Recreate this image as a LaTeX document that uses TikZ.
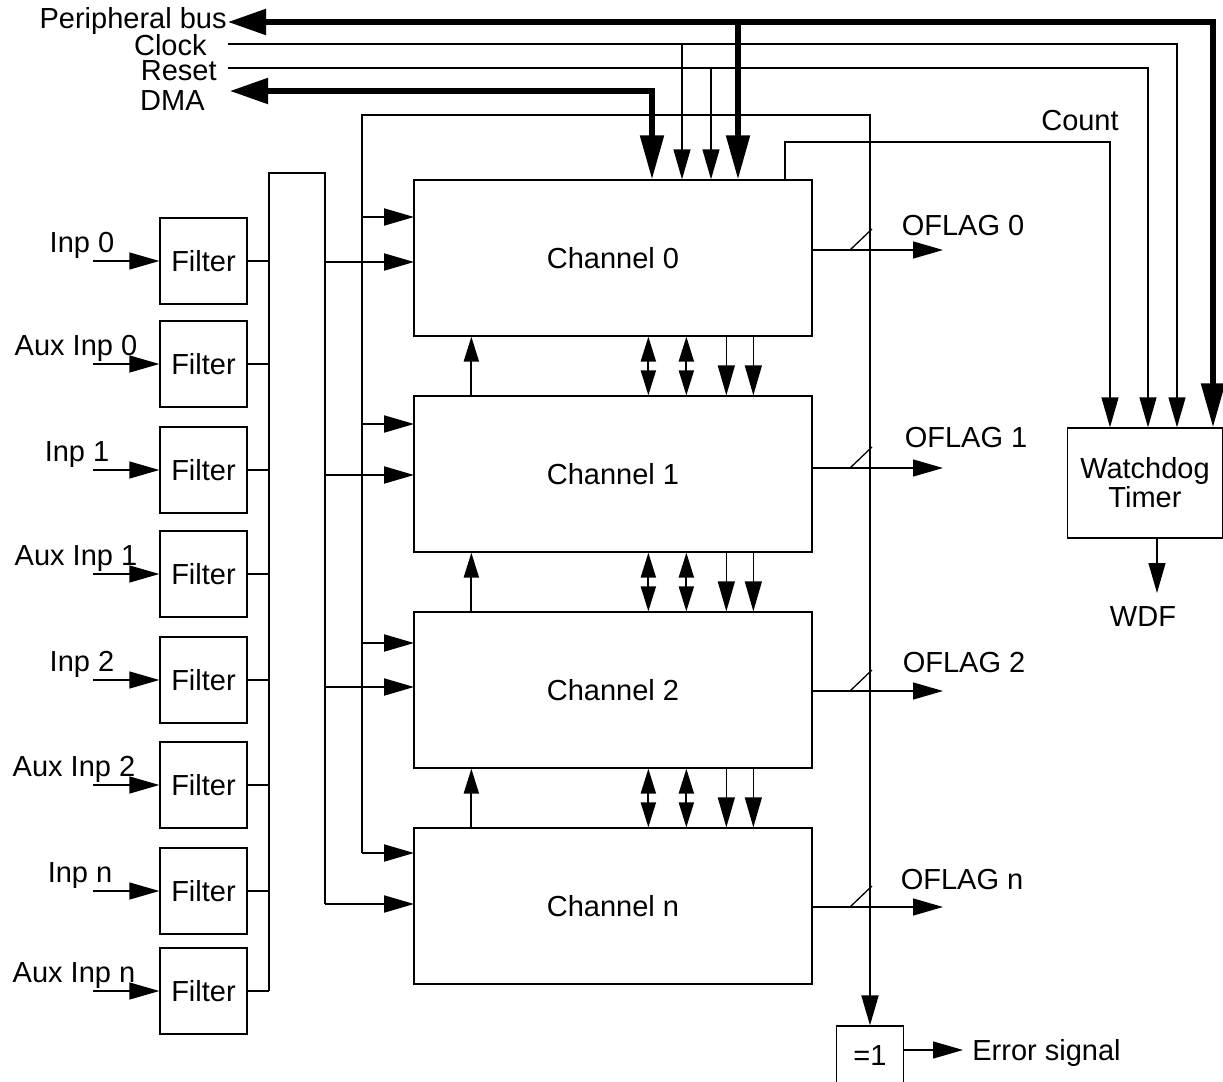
\documentclass[tikz,border=0pt]{standalone}
\usepackage{fontspec}
\setmainfont{Liberation Sans}
\usetikzlibrary{arrows.meta,calc}

\begin{document}
\begin{tikzpicture}[
  x=0.5pt,
  y=-0.5pt,
  thinTip/.tip={Triangle[length=15pt,width=8.5pt]},
  smallTip/.tip={Triangle[length=12.5pt,width=7.5pt]},
  fatTip/.tip={Triangle[length=22pt,width=11.5pt]},
  busTip/.tip={Triangle[length=19pt,width=12.5pt]},
  sigThin/.style={line width=0.65pt},
  sigMid/.style={line width=1pt},
  sigFat/.style={line width=2.6pt},
  blockBox/.style={draw, line width=0.65pt, inner sep=0pt, font=\fontsize{14.5}{12}\selectfont},
  chanBox/.style={blockBox, minimum width=199pt, minimum height=78pt},
  filterBox/.style={blockBox, minimum width=43.5pt, minimum height=43pt},
  sigLabel/.style={inner sep=0pt, font=\fontsize{14.5}{12}\selectfont}
]
  \useasboundingbox (0,0) rectangle (1223,1082);

  % channels
  \foreach \i/\y/\t in {0/258/0,1/474/1,2/690/2,3/906/n} {
    \node[chanBox] (ch\i) at (613,\y) {Channel \t};
  }

  % filters with their inputs
  \foreach \i/\y/\lx/\t in {1/261/82/Inp 0,2/364/76/Aux Inp 0,3/470/77/Inp 1,4/574/76/Aux Inp 1,
                            5/680/82/Inp 2,6/785/74/Aux Inp 2,7/891/80/Inp n,8/991/74/Aux Inp n} {
    \node[filterBox] (f\i) at (203.5,\y) {Filter};
    \node[sigLabel, anchor=base] (in\i) at (\lx,\y-9) {\t};
    \coordinate (src\i) at (93,\y);
    \draw[sigThin, -thinTip] (src\i) -- (f\i);
  }

  \coordinate (busL) at (269,173);
  \coordinate (busR) at (325,173);
  \foreach \i in {1,...,8} \draw[sigThin] (f\i.east) -- (f\i.east -| busL);

  \foreach \i/\y in {0/262,1/475,2/687,3/904} {
    \coordinate (chin\i) at (414,\y);
    \draw[sigMid, -thinTip] (busR |- chin\i) -- (chin\i);
  }
  \draw[sigMid] (f8.east -| busL) -- (busL) -- (busR) -- (busR |- chin3);

  % error path
  \node[blockBox, minimum width=33.5pt, minimum height=30pt] (xor) at (870,1056) {=1};
  \coordinate (errTop) at (362,115);
  \foreach \i/\y in {0/217,1/424,2/643,3/853} {
    \coordinate (chx\i) at (414,\y);
    \draw[sigMid, -thinTip] (errTop |- chx\i) -- (chx\i);
  }
  \draw[sigMid, -thinTip] (errTop |- chx3) -- (errTop) -| (xor);
  \node[sigLabel, anchor=base west] (err) at (972,1060) {Error signal};
  \coordinate (errEnd) at (963,1050);
  \draw[sigThin, -thinTip] (xor.east |- errEnd) -- (errEnd);

  % links between channels
  \foreach \a/\b in {1/0,2/1,3/2} {
    \draw[sigMid, -smallTip] ($(ch\a.north west)+(58,0)$) -- ($(ch\b.south west)+(58,0)$);
    \draw[sigMid, smallTip-smallTip] ($(ch\a.north west)+(235,0)$) -- ($(ch\b.south west)+(235,0)$);
    \draw[sigMid, smallTip-smallTip] ($(ch\a.north west)+(273,0)$) -- ($(ch\b.south west)+(273,0)$);
    \draw[sigThin, -thinTip] ($(ch\b.south west)+(313,0)$) -- ($(ch\a.north west)+(313,0)$);
    \draw[sigThin, -thinTip] ($(ch\b.south west)+(340,0)$) -- ($(ch\a.north west)+(340,0)$);
  }

  % outputs
  \foreach \i/\y/\t/\lx/\ly in {0/250/0/963/226,1/468/1/966/438,2/691/2/964/663,3/907/n/962/880} {
    \coordinate (oa\i) at (812,\y);
    \coordinate (ob\i) at (943,\y);
    \draw[sigThin, -thinTip] (oa\i) -- (ob\i);
    \draw[sigThin] ($(oa\i)+(38,0)$) -- ++(22,-21);
    \node[sigLabel] (of\i) at (\lx,\ly) {OFLAG \t};
  }

  % watchdog
  \node[blockBox, minimum width=77.5pt, minimum height=55pt, align=center] (wd) at (1145,483) {Watchdog\\Timer};
  \coordinate (wdo) at (1157,593);
  \draw[sigThin, -thinTip] (wdo |- wd.south) -- (wdo);
  \node[sigLabel] (wdf) at (1143,617) {WDF};

  % system signals
  \node[sigLabel, anchor=base east] (pbus) at (227,28) {Peripheral bus};
  \node[sigLabel, anchor=base east] (clk) at (207,55) {Clock};
  \node[sigLabel, anchor=base east] (rst) at (217,80) {Reset};
  \node[sigLabel, anchor=base east] (dma) at (205,110) {DMA};
  \node[sigLabel] (cnt) at (1080,121) {Count};

  \coordinate (pbL) at (228,22);
  \coordinate (pbR) at (1213,22);
  \coordinate (pbB) at (738,22);
  \coordinate (ckL) at (228,44);
  \coordinate (ckR) at (1177,44);
  \coordinate (ckB) at (682,44);
  \coordinate (rsL) at (228,68);
  \coordinate (rsR) at (1148,68);
  \coordinate (rsB) at (711,68);
  \coordinate (dmL) at (230,91);
  \coordinate (dmR) at (652,91);
  \coordinate (cnL) at (785,142);
  \coordinate (cnR) at (1110,142);

  \draw[sigFat, busTip-fatTip] (pbL) -- (pbR) -- (pbR |- wd.north);
  \draw[sigFat, -fatTip] (pbB) -- (pbB |- ch0.north);
  \draw[sigThin, -thinTip] (ckL) -- (ckR) -- (ckR |- wd.north);
  \draw[sigThin, -thinTip] (ckB) -- (ckB |- ch0.north);
  \draw[sigThin, -thinTip] (rsL) -- (rsR) -- (rsR |- wd.north);
  \draw[sigThin, -thinTip] (rsB) -- (rsB |- ch0.north);
  \draw[sigFat, busTip-fatTip] (dmL) -- (dmR) -- (dmR |- ch0.north);
  \draw[sigThin, -thinTip] (cnL |- ch0.north) -- (cnL) -- (cnR) -- (cnR |- wd.north);
\end{tikzpicture}
\end{document}
